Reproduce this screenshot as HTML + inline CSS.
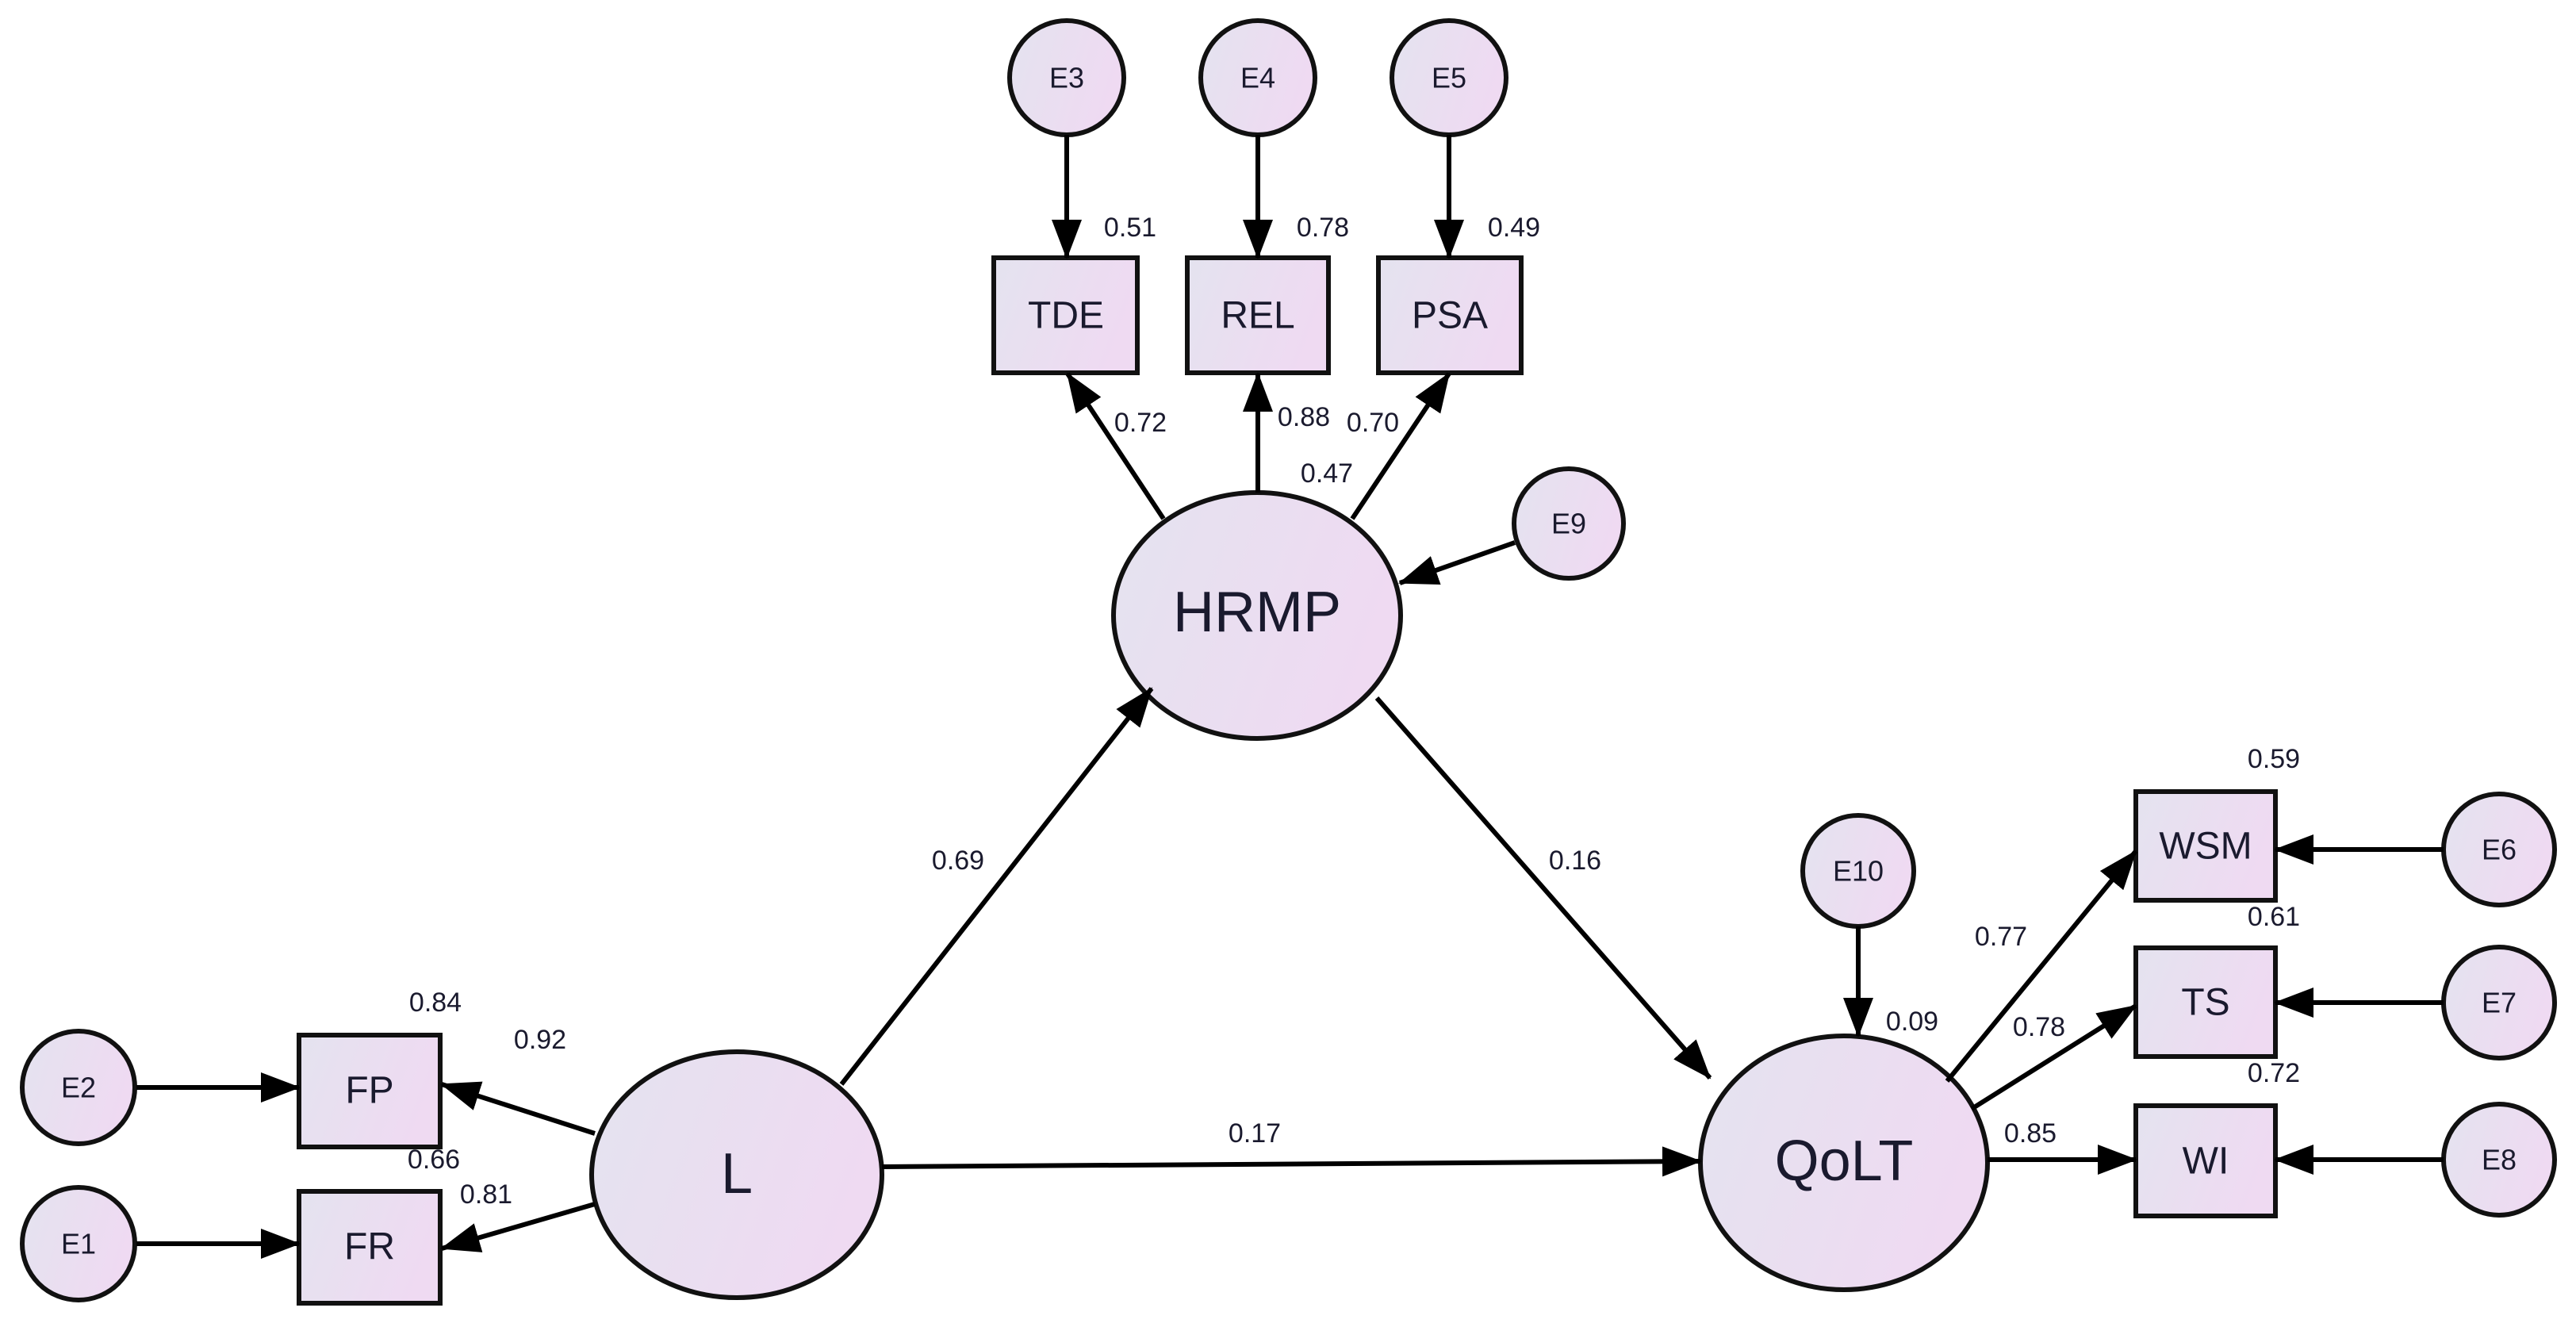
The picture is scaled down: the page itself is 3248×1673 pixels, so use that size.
<!DOCTYPE html>
<html><head><meta charset="utf-8"><style>html,body{margin:0;padding:0;background:#fff}svg{display:block}</style></head><body>
<svg width="3248" height="1673" viewBox="0 0 3248 1673" xmlns="http://www.w3.org/2000/svg" font-family="Liberation Sans, Arial, sans-serif">
<defs>
<linearGradient id="g" x1="0" y1="0" x2="1" y2="0.3"><stop offset="0" stop-color="#e4e3ef"/><stop offset="1" stop-color="#efdaf2"/></linearGradient>
<marker id="a" markerUnits="userSpaceOnUse" markerWidth="50" markerHeight="38" refX="48" refY="19" orient="auto"><path d="M0,0 L50,19 L0,38 Z" fill="#000"/></marker>
</defs>
<g stroke="#111" stroke-width="6" fill="url(#g)">
<circle cx="1345" cy="98" r="72"/><circle cx="1586" cy="98" r="72"/><circle cx="1827" cy="98" r="72"/>
<rect x="1253" y="325" width="181" height="145"/><rect x="1497" y="325" width="178" height="145"/><rect x="1738" y="325" width="180" height="145"/>
<ellipse cx="1585" cy="776" rx="181" ry="155"/>
<circle cx="1978" cy="660" r="69"/>
<ellipse cx="99" cy="1371" rx="71" ry="71"/><ellipse cx="99" cy="1568" rx="71" ry="71"/>
<rect x="377" y="1305" width="178" height="141"/><rect x="377" y="1502" width="178" height="141"/>
<ellipse cx="929" cy="1481" rx="183" ry="155"/>
<ellipse cx="2325" cy="1466" rx="181" ry="160"/>
<circle cx="2343" cy="1098" r="70"/>
<rect x="2693" y="998" width="176" height="137"/><rect x="2693" y="1195" width="176" height="137"/><rect x="2693" y="1394" width="176" height="139"/>
<circle cx="3151" cy="1071" r="70"/><circle cx="3151" cy="1264" r="70"/><circle cx="3151" cy="1462" r="70"/>
</g>
<g stroke="#000" stroke-width="6" fill="none" marker-end="url(#a)">
<line x1="1345" y1="170" x2="1345" y2="325"/><line x1="1586" y1="170" x2="1586" y2="325"/><line x1="1827" y1="170" x2="1827" y2="325"/>
<line x1="1467" y1="654" x2="1346" y2="471"/><line x1="1586" y1="621" x2="1586" y2="471"/><line x1="1705" y1="654" x2="1827" y2="471"/>
<line x1="1910" y1="684" x2="1765" y2="735"/>
<line x1="172" y1="1371" x2="377" y2="1371"/><line x1="172" y1="1568" x2="377" y2="1568"/>
<line x1="750" y1="1429" x2="557" y2="1367"/><line x1="750" y1="1518" x2="557" y2="1574"/>
<line x1="1061" y1="1367" x2="1452" y2="868"/>
<line x1="1736" y1="880" x2="2156" y2="1359"/>
<line x1="1112" y1="1471" x2="2144" y2="1464"/>
<line x1="2343" y1="1168" x2="2343" y2="1306"/>
<line x1="2455" y1="1363" x2="2693" y2="1073"/><line x1="2486" y1="1398" x2="2693" y2="1268"/><line x1="2506" y1="1462" x2="2693" y2="1462"/>
<line x1="3081" y1="1071" x2="2869" y2="1071"/><line x1="3081" y1="1264" x2="2869" y2="1264"/><line x1="3081" y1="1462" x2="2869" y2="1462"/>
</g>
<g fill="#1a1a2e" text-anchor="middle" dominant-baseline="central">
<g font-size="36"><text x="1345" y="98">E3</text><text x="1586" y="98">E4</text><text x="1827" y="98">E5</text><text x="1978" y="660">E9</text><text x="99" y="1371">E2</text><text x="99" y="1568">E1</text><text x="2343" y="1098">E10</text><text x="3151" y="1071">E6</text><text x="3151" y="1264">E7</text><text x="3151" y="1462">E8</text></g>
<g font-size="48"><text x="1344" y="398">TDE</text><text x="1586" y="398">REL</text><text x="1828" y="398">PSA</text><text x="466" y="1375">FP</text><text x="466" y="1572">FR</text><text x="2781" y="1067">WSM</text><text x="2781" y="1264">TS</text><text x="2781" y="1464">WI</text></g>
<g font-size="72"><text x="1585" y="772">HRMP</text><text x="929" y="1480">L</text><text x="2325" y="1464">QoLT</text></g>
<g font-size="34"><text x="1425" y="287">0.51</text><text x="1668" y="287">0.78</text><text x="1909" y="287">0.49</text>
<text x="1438" y="533">0.72</text><text x="1644" y="526">0.88</text><text x="1731" y="533">0.70</text><text x="1673" y="597">0.47</text>
<text x="549" y="1264">0.84</text><text x="681" y="1311">0.92</text><text x="547" y="1462">0.66</text><text x="613" y="1506">0.81</text>
<text x="1208" y="1085">0.69</text><text x="1986" y="1085">0.16</text><text x="1582" y="1429">0.17</text>
<text x="2411" y="1288">0.09</text><text x="2867" y="957">0.59</text><text x="2867" y="1156">0.61</text><text x="2867" y="1353">0.72</text>
<text x="2523" y="1181">0.77</text><text x="2571" y="1295">0.78</text><text x="2560" y="1429">0.85</text></g>
</g>
</svg>
</body></html>
